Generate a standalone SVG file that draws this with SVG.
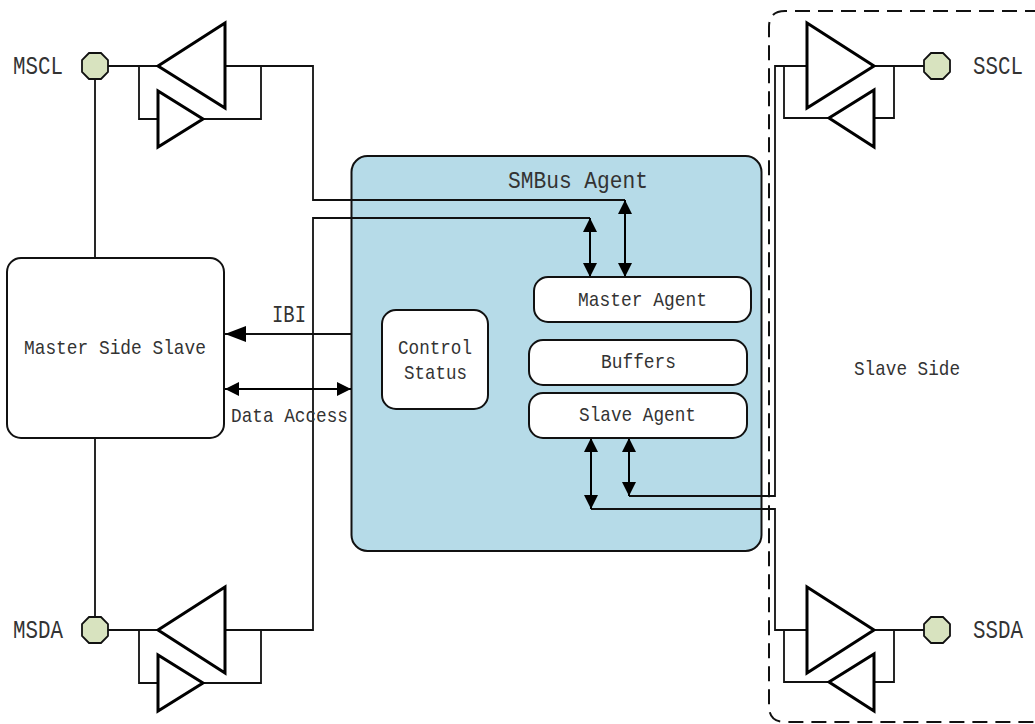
<svg xmlns="http://www.w3.org/2000/svg" width="1035" height="724" viewBox="0 0 1035 724">
<style>
.bg{fill:#fff}
.box{fill:#fff;stroke:#111;stroke-width:2}
.agent{fill:#b6dbe8;stroke:#111;stroke-width:2}
.tri{fill:#fff;stroke:#000;stroke-width:3;stroke-linejoin:miter}
.pad{fill:#d8e3bf;stroke:#111;stroke-width:1.800}
.wire{fill:none;stroke:#111;stroke-width:1.800}
.dash{fill:none;stroke:#111;stroke-width:2;stroke-dasharray:15 8}
.arrow{fill:none;stroke:#000;stroke-width:2;marker-start:url(#head);marker-end:url(#head)}
text{font-family:"Liberation Mono",monospace;fill:#333;font-size:21px;text-anchor:start}
text.lg{font-size:25px}
text.md{font-size:24px}
</style>
<defs>
<marker id="head" markerUnits="userSpaceOnUse" markerWidth="14" markerHeight="14" refX="14" refY="7" orient="auto-start-reverse"><path d="M0 0L14 7L0 14Z" fill="#000"/></marker>
<marker id="big" markerUnits="userSpaceOnUse" markerWidth="21" markerHeight="16" refX="21" refY="8" orient="auto"><path d="M0 0L21 8L0 16Z" fill="#000"/></marker>
<polygon id="oct" class="pad" points="-6,-13 6,-13 13,-6 13,6 6,13 -6,13 -13,6 -13,-6"/>
</defs>
<rect class="bg" width="1035" height="724"/>
<g id="agent"><rect class="agent" x="351.500" y="156" width="410" height="395" rx="16"/><text class="md" x="508" y="188" textLength="140" lengthAdjust="spacingAndGlyphs">SMBus Agent</text></g>
<g id="slave-side"><path class="dash" d="M1040 11H785Q769 11 769 27V706Q769 722 785 722H1040"/><text x="854" y="375" textLength="106" lengthAdjust="spacingAndGlyphs">Slave Side</text></g>
<g id="connectors">
<path class="wire" d="M95 79V258M95 438V617"/>
<path class="wire" d="M108 66H158M139 66V119H158M203 119H261V66M225 66H313V200H625"/>
<path class="wire" d="M108 630H158M139 630V683H158M203 683H261V630M225 630H313V218H590"/>
<path class="wire" d="M629 496H775V66H807M784 66V118H829M874 66H924M894 66V118H874"/>
<path class="wire" d="M591 509H775V630H807M784 630V682H829M874 630H924M894 630V682H874"/>
<path class="arrow" d="M590 218V277"/>
<path class="arrow" d="M625 200V277"/>
<path class="arrow" d="M591 438V509"/>
<path class="arrow" d="M629 438V496"/>
<path class="arrow" d="M225 389H351"/>
<path class="wire" d="M351 334H225" marker-end="url(#big)"/>
</g>
<g id="mscl"><use href="#oct" x="95" y="66"/><text class="lg" x="13" y="74" textLength="50" lengthAdjust="spacingAndGlyphs">MSCL</text></g>
<g id="msda"><use href="#oct" x="95" y="630"/><text class="lg" x="13" y="638" textLength="50" lengthAdjust="spacingAndGlyphs">MSDA</text></g>
<g id="sscl"><use href="#oct" x="937" y="66"/><text class="lg" x="973" y="74" textLength="50" lengthAdjust="spacingAndGlyphs">SSCL</text></g>
<g id="ssda"><use href="#oct" x="937" y="630"/><text class="lg" x="973" y="638" textLength="50" lengthAdjust="spacingAndGlyphs">SSDA</text></g>
<g id="buf-mscl"><polygon class="tri" points="158,66 225,23 225,108"/><polygon class="tri" points="158,91 158,147 203,119"/></g>
<g id="buf-msda"><polygon class="tri" points="158,630 225,587 225,673"/><polygon class="tri" points="158,655 158,711 203,683"/></g>
<g id="buf-sscl"><polygon class="tri" points="807,23 807,108 874,66"/><polygon class="tri" points="874,90 874,147 829,118"/></g>
<g id="buf-ssda"><polygon class="tri" points="807,587 807,673 874,630"/><polygon class="tri" points="874,654 874,711 829,682"/></g>
<g id="master-side-slave"><rect class="box" x="7" y="258" width="217" height="180" rx="14"/><text x="24" y="354" textLength="182" lengthAdjust="spacingAndGlyphs">Master Side Slave</text></g>
<g id="control-status"><rect class="box" x="382" y="310" width="106" height="99" rx="14"/><text x="398" y="354" textLength="74" lengthAdjust="spacingAndGlyphs">Control</text><text x="404" y="379" textLength="63" lengthAdjust="spacingAndGlyphs">Status</text></g>
<g id="master-agent"><rect class="box" x="534" y="277" width="217" height="45" rx="14"/><text x="578" y="306" textLength="129" lengthAdjust="spacingAndGlyphs">Master Agent</text></g>
<g id="buffers"><rect class="box" x="529" y="340" width="218" height="45" rx="14"/><text x="601" y="368" textLength="75" lengthAdjust="spacingAndGlyphs">Buffers</text></g>
<g id="slave-agent"><rect class="box" x="529" y="393" width="218" height="45" rx="14"/><text x="579" y="421" textLength="117" lengthAdjust="spacingAndGlyphs">Slave Agent</text></g>
<text class="md" x="272" y="322" textLength="34" lengthAdjust="spacingAndGlyphs">IBI</text>
<text x="231" y="422" textLength="117" lengthAdjust="spacingAndGlyphs">Data Access</text>
</svg>
